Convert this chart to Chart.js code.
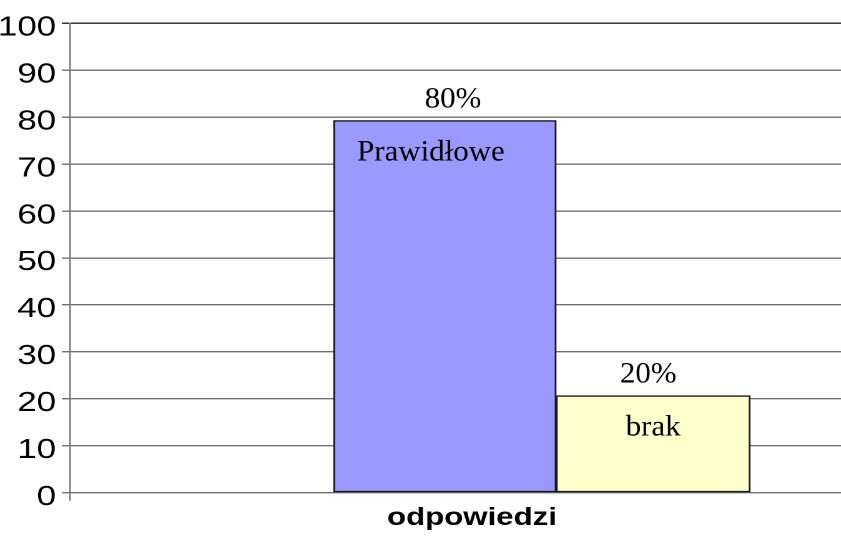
<!DOCTYPE html>
<html>
<head>
<meta charset="utf-8">
<script src="https://cdn.jsdelivr.net/npm/chart.js@4"></script>
<style>
  html, body { margin: 0; padding: 0; background: #fff; overflow: hidden; }
</style>
</head>
<body>
<!-- the original picture is stretched sideways: draw narrower, show wider -->
<canvas id="chart" width="700" height="536" style="display:block;width:874px;height:536px"></canvas>
<script>
const categories = ["odpowiedzi"];
const seriesNames = ["Prawidłowe", "brak"];
const seriesValues = [[79.3], [20.7]];
const valueLabels = ["80%", "20%"];
const seriesColors = ["#9999ff", "#ffffcc"];
const yMin = 0;
const yMax = 100;
const yStep = 10;

const stretch = 874 / 700;
const barWidths = [222.5 / stretch, 194 / stretch];
// small sideways nudges of the labels, in screen px
const valueShift = [8, -5];
const nameShift = [-14, 0];

// value labels above bars, series names inside them (serif, not stretched)
const barLabels = {
	id: "barLabels",
	afterDatasetsDraw(chart) {
		const ctx = chart.ctx;
		const put = (text, x, y) => {
			ctx.save();
			ctx.translate(x, y);
			ctx.scale(1.03 / stretch, 1);
			ctx.font = "30px 'Liberation Serif'";
			ctx.fillStyle = "#000";
			ctx.textAlign = "center";
			ctx.textBaseline = "alphabetic";
			ctx.fillText(text, 0, 0);
			ctx.restore();
		};
		chart.data.datasets.forEach((ds, i) => {
			chart.getDatasetMeta(i).data.forEach((bar) => {
				put(valueLabels[i], bar.x + valueShift[i] / stretch, bar.y - 13);
				put(seriesNames[i], bar.x + nameShift[i] / stretch, bar.y + 40);
			});
		});
	},
};

const data = {
	datasets: seriesNames.map((name, i) => ({
		label: name,
		data: categories.map((c, j) => ({ x: j, y: seriesValues[i][j] })),
		backgroundColor: seriesColors[i],
		borderColor: "#1a1a1a",
		borderWidth: 1.5,
		borderSkipped: false,
		barThickness: barWidths[i],
	})),
};

const options = {
	responsive: false,
	devicePixelRatio: 2,
	animation: false,
	layout: { padding: { top: 23.3, right: 0, bottom: 0, left: 0 } },
	plugins: {
		legend: { display: false },
		tooltip: { enabled: false },
	},
	scales: {
		x: {
			type: "linear",
			min: -1.53,
			max: 1,
			offset: false,
			afterBuildTicks: (s) => {
				s.ticks = [{ value: s.min }];
			},
			grid: {
				offset: false,
				drawOnChartArea: false,
				drawTicks: true,
				tickLength: 8,
				color: "#707070",
				lineWidth: 1.1,
			},
			border: { display: false },
			ticks: { display: false },
			title: {
				display: true,
				text: categories[0],
				color: "#000",
				font: { family: "'Liberation Sans', Arial", size: 25, weight: "bold", lineHeight: 1.2 },
				padding: { top: 2.3, bottom: 3 },
			},
		},
		y: {
			min: yMin,
			max: yMax,
			afterFit: (s) => {
				s.width = 56;
			},
			ticks: {
				stepSize: yStep,
				color: "#000",
				padding: 4.6,
				labelOffset: 4.5,
				font: { family: "'Liberation Sans', Arial", size: 28 },
			},
			grid: {
				tickLength: 6.4,
				color: (c) => (c.tick && c.tick.value === yMax ? "#222" : "#707070"),
				lineWidth: 1.4,
			},
			border: { display: true, color: "#707070", width: 1.1 },
		},
	},
};

new Chart(document.getElementById("chart").getContext("2d"), {
	type: "bar",
	data: data,
	options: options,
	plugins: [barLabels],
});
</script>
</body>
</html>
